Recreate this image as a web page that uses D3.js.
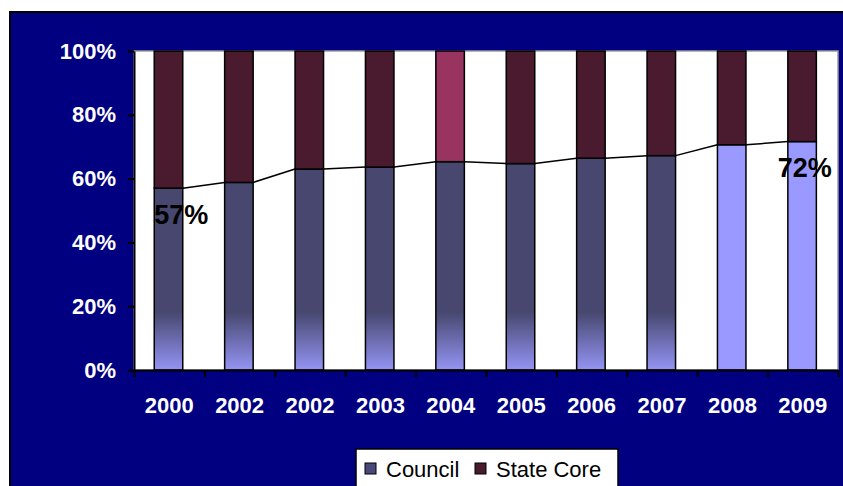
<!DOCTYPE html>
<html lang="en">
<head>
  <meta charset="UTF-8">
  <title>Council vs State Core</title>
  <script src="https://d3js.org/d3.v7.min.js"></script>
  <style>
    body { margin: 0; padding: 0; background: #fff; }
    svg { display: block; font-family: "Liberation Sans", Arial, sans-serif; }
  </style>
</head>
<body>
  <svg id="chart" width="843" height="486"></svg>
  <script>
    const years = ["2000", "2002", "2002", "2003", "2004", "2005", "2006", "2007", "2008", "2009"];
    const council = [57, 58.8, 63, 63.6, 65.3, 64.7, 66.4, 67.2, 70.6, 71.6];
    const stateCore = [43, 41.2, 37, 36.4, 34.7, 35.3, 33.6, 32.8, 29.4, 28.4];
    const seriesNames = ["Council", "State Core"];
    const yTicks = [0, 0.2, 0.4, 0.6, 0.8, 1];

    const rows = years.map((y, i) => ({ i: i, year: y, Council: council[i] / 100, "State Core": stateCore[i] / 100 }));

    const svg = d3.select("#chart");
    const plot = { left: 134, right: 838, top: 51, bottom: 370 };

    // navy frame
    svg.append("rect")
      .attr("x", 10).attr("y", 12)
      .attr("width", 845).attr("height", 490)
      .attr("fill", "#000080")
      .attr("stroke", "#000").attr("stroke-width", 2);

    const defs = svg.append("defs");
    const grad = defs.append("linearGradient")
      .attr("id", "councilGrad")
      .attr("gradientUnits", "userSpaceOnUse")
      .attr("x1", 0).attr("x2", 0).attr("y1", 312).attr("y2", 370);
    grad.append("stop").attr("offset", 0).attr("stop-color", "#47476f");
    grad.append("stop").attr("offset", 1).attr("stop-color", "#9494f4");

    // plot area
    svg.append("rect")
      .attr("x", plot.left).attr("y", plot.top)
      .attr("width", plot.right - plot.left).attr("height", plot.bottom - plot.top)
      .attr("fill", "#fff")
      .attr("stroke", "#9a9a9a").attr("stroke-width", 1.5);

    const x = d3.scaleBand()
      .domain(d3.range(years.length))
      .range([plot.left, plot.right])
      .padding(0);

    const xEdge = d3.scaleLinear()
      .domain([0, years.length])
      .range([plot.left, plot.right]);

    const y = d3.scaleLinear()
      .domain([0, 1])
      .range([plot.bottom, plot.top]);

    const barW = x.bandwidth() * 0.405;
    const barX = i => x(i) + (x.bandwidth() - barW) / 2 - 0.7;

    const stack = d3.stack().keys(seriesNames);
    const stacked = stack(rows);

    const councilFill = i => i >= 8 ? "#9999ff" : "url(#councilGrad)";
    const stateFill = i => i === 4 ? "#993360" : "#4a1a2f";

    svg.append("g")
      .selectAll("g")
      .data(stacked)
      .join("g")
      .selectAll("rect")
      .data((s, k) => s.map(d => ({ d: d, k: k })))
      .join("rect")
      .attr("x", e => barX(e.d.data.i))
      .attr("y", e => y(e.d[1]))
      .attr("width", barW)
      .attr("height", e => y(e.d[0]) - y(e.d[1]))
      .attr("fill", e => e.k === 0 ? councilFill(e.d.data.i) : stateFill(e.d.data.i))
      .attr("stroke", "#000")
      .attr("stroke-width", 1.5);

    // series lines between council tops
    const seg = [];
    for (let i = 0; i < rows.length - 1; i++) {
      seg.push([barX(i) + barW, y(rows[i].Council), barX(i + 1), y(rows[i + 1].Council)]);
    }
    svg.append("g")
      .selectAll("line")
      .data(seg)
      .join("line")
      .attr("x1", d => d[0]).attr("y1", d => d[1])
      .attr("x2", d => d[2]).attr("y2", d => d[3])
      .attr("stroke", "#000").attr("stroke-width", 1.5);

    // axes
    const yAxis = svg.append("g")
      .attr("transform", `translate(${plot.left},0)`)
      .call(d3.axisLeft(y).tickValues(yTicks).tickFormat(d3.format(".0%")).tickSize(6).tickSizeOuter(0).tickPadding(12));
    yAxis.select(".domain").attr("stroke", "#000").attr("stroke-width", 2);
    yAxis.selectAll(".tick line").attr("stroke", "#000").attr("stroke-width", 2);
    yAxis.selectAll("text")
      .attr("fill", "#fff")
      .attr("font-size", 22)
      .attr("font-weight", "bold")
      .attr("font-family", "'Liberation Sans', Arial, sans-serif");

    const xTicks = svg.append("g")
      .attr("transform", `translate(0,${plot.bottom})`)
      .call(d3.axisBottom(xEdge).ticks(years.length).tickFormat("").tickSize(7).tickSizeOuter(0));
    xTicks.select(".domain").attr("stroke", "#000").attr("stroke-width", 2);
    xTicks.selectAll(".tick line").attr("stroke", "#000").attr("stroke-width", 2);

    const xLabels = svg.append("g")
      .attr("transform", `translate(0,${plot.bottom})`)
      .call(d3.axisBottom(x).tickFormat(i => years[i]).tickSize(0).tickPadding(27));
    xLabels.select(".domain").remove();
    xLabels.selectAll("text")
      .attr("fill", "#fff")
      .attr("font-size", 22)
      .attr("font-weight", "bold")
      .attr("font-family", "'Liberation Sans', Arial, sans-serif");

    // data labels
    const labelIdx = [0, years.length - 1];
    svg.append("g")
      .selectAll("text")
      .data(labelIdx)
      .join("text")
      .attr("x", i => x(i) + x.bandwidth() / 2 + (i === 0 ? 12 : 2))
      .attr("y", i => y(rows[i].Council) + (i === 0 ? 36 : 35))
      .attr("text-anchor", "middle")
      .attr("font-size", 27)
      .attr("font-weight", "bold")
      .attr("fill", "#000")
      .text(i => Math.round(council[i]) + "%");

    // legend
    const legend = svg.append("g");
    legend.append("rect")
      .attr("x", 356).attr("y", 449)
      .attr("width", 262).attr("height", 60)
      .attr("fill", "#fff").attr("stroke", "#000").attr("stroke-width", 1.5);
    const legendColors = ["#4a4a7a", "#4a1a2f"];
    const items = legend.selectAll("g")
      .data(seriesNames)
      .join("g")
      .attr("transform", (d, i) => `translate(${i === 0 ? 365 : 475},463)`);
    items.append("rect")
      .attr("width", 11).attr("height", 11)
      .attr("fill", (d, i) => legendColors[i])
      .attr("stroke", "#000").attr("stroke-width", 1);
    items.append("text")
      .attr("x", 21).attr("y", 14)
      .attr("font-size", 22)
      .attr("fill", "#000")
      .text(d => d);
  </script>
</body>
</html>
